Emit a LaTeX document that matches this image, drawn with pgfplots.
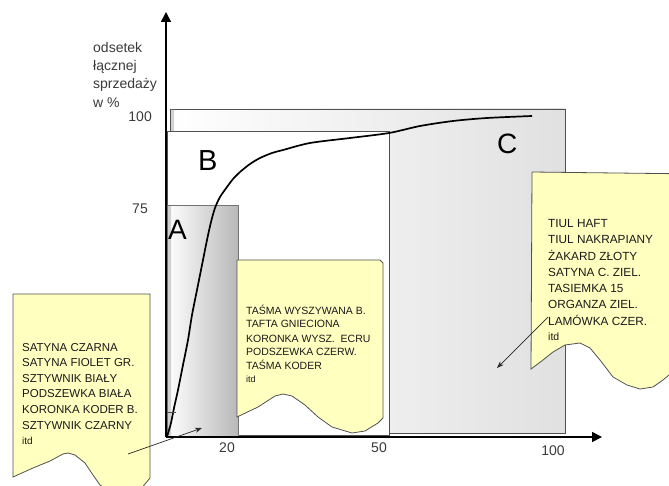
\documentclass[border=0pt]{standalone}
\usepackage{pgfplots}
\pgfplotsset{compat=1.18}
\usepackage{fontspec}
\setmainfont{Liberation Sans}
\usetikzlibrary{arrows.meta}
\definecolor{note}{HTML}{FFFFC0}
\definecolor{txt}{HTML}{1A1A1A}
\definecolor{lbl}{HTML}{3A3A3A}
\definecolor{edge}{HTML}{505050}

\begin{document}
\begin{tikzpicture}
\begin{axis}[
  scale only axis, width=669bp, height=486bp,
  xmin=0, xmax=669, ymin=0, ymax=486, y dir=reverse,
  enlargelimits=false, hide axis, clip=true,
]
% frame for bounding box
\addplot[draw=none] coordinates {(0,0) (669,486)};

% region C (background rectangle)
\addplot[draw=edge, line width=0.9bp, left color=white, right color=black!12]
  coordinates {(170,109) (565,109) (565,433) (170,433) (170,109)};
\addplot[draw=none, fill=black!18] coordinates {(171,110) (174,110) (174,131) (171,131) (171,110)};

% region B
\addplot[draw=edge, line width=0.9bp, fill=white]
  coordinates {(167,131) (389,131) (389,435) (167,435) (167,131)};

% region A
\addplot[draw=black!55, line width=0.9bp, left color=white, right color=black!28]
  coordinates {(167,205) (238,205) (238,437) (167,437) (167,205)};
\addplot[draw=none, fill=black!18] coordinates {(168,206) (171,206) (171,436) (168,436) (168,206)};

% cumulative curve
\addplot[black, line width=1.7bp, smooth, tension=0.5] coordinates {
  (167,437) (169,430) (171,423) (174,408) (178,390) (183,365) (188,340)
  (192,315) (197,290) (202,265) (207,240) (211,222) (215,208) (220,197)
  (227,187) (233,179) (240,172) (250,164) (260,158) (272,153) (283,150)
  (310,143) (350,138) (389,133) (420,126) (453,121) (487,118) (532,116)};
\addplot[black!70, line width=0.6bp] coordinates {(166,412) (176,412)};

% axes
\addplot[black, line width=1.5bp, -{Triangle[length=10bp,width=10bp]}]
  coordinates {(166,437) (166,12)};
\addplot[black, line width=1.5bp, -{Triangle[length=10bp,width=10bp]}]
  coordinates {(166,437) (602,437)};

% notes
\addplot[draw=edge, line width=0.8bp, fill=note] coordinates {
  (13,294) (150,294) (150,478) (140,490) (125,496) (110,492) (100,485)
  (93,475) (85,463) (75,455) (68,453) (63,454) (50,461) (33,468) (13,477) (13,294)};
\addplot[draw=edge, line width=0.8bp, fill=note] coordinates {
  (237,260) (380,260) (383,263) (383,418) (378,423) (365,431) (352,433)
  (332,427) (318,417) (305,405) (292,396) (283,394) (275,396) (258,407)
  (237,417) (237,260)};
\addplot[draw=edge, line width=0.8bp, fill=note] coordinates {
  (532,172) (700,174) (700,360) (669,375) (663,380) (653,387) (640,389)
  (627,385) (613,377) (600,360) (590,348) (580,343) (565,345) (553,352)
  (543,360) (531,369) (532,172)};

% pointer arrows
\addplot[black!85, line width=0.7bp, -{Stealth[length=7bp,width=5bp]}]
  coordinates {(128,454) (202,428)};
\addplot[black!85, line width=0.7bp, -{Stealth[length=7bp,width=5bp]}]
  coordinates {(548,317) (497,368)};

% texts
\begin{scope}[every node/.style={inner sep=0pt, anchor=base west}]
\node[font=\fontsize{14bp}{16bp}\selectfont, text=lbl] at (axis cs:93,53) {odsetek};
\node[font=\fontsize{14bp}{16bp}\selectfont, text=lbl] at (axis cs:93,71) {łącznej};
\node[font=\fontsize{14bp}{16bp}\selectfont, text=lbl] at (axis cs:93,89) {sprzedaży};
\node[font=\fontsize{14bp}{16bp}\selectfont, text=lbl] at (axis cs:93,107) {w \%};

\node[font=\fontsize{14bp}{16bp}\selectfont, text=lbl, anchor=base east] at (axis cs:152,121) {100};
\node[font=\fontsize{14bp}{16bp}\selectfont, text=lbl, anchor=base east] at (axis cs:148,213) {75};
\node[font=\fontsize{14bp}{16bp}\selectfont, text=lbl, anchor=base] at (axis cs:227,452) {20};
\node[font=\fontsize{14bp}{16bp}\selectfont, text=lbl, anchor=base] at (axis cs:379,452) {50};
\node[font=\fontsize{14bp}{16bp}\selectfont, text=lbl, anchor=base] at (axis cs:553,455) {100};

\node[font=\fontsize{28bp}{30bp}\selectfont] at (axis cs:168,239) {A};
\node[font=\fontsize{29bp}{30bp}\selectfont] at (axis cs:198,170) {B};
\node[font=\fontsize{28bp}{30bp}\selectfont] at (axis cs:497,153) {C};

\node[font=\fontsize{11.5bp}{13bp}\selectfont, text=txt] at (axis cs:22,351) {SATYNA CZARNA};
\node[font=\fontsize{11.5bp}{13bp}\selectfont, text=txt] at (axis cs:22,366) {SATYNA FIOLET GR.};
\node[font=\fontsize{11.5bp}{13bp}\selectfont, text=txt] at (axis cs:22,382) {SZTYWNIK BIAŁY};
\node[font=\fontsize{11.5bp}{13bp}\selectfont, text=txt] at (axis cs:22,397) {PODSZEWKA BIAŁA};
\node[font=\fontsize{11.5bp}{13bp}\selectfont, text=txt] at (axis cs:22,413) {KORONKA KODER B.};
\node[font=\fontsize{11.5bp}{13bp}\selectfont, text=txt] at (axis cs:22,429) {SZTYWNIK CZARNY};
\node[font=\fontsize{10bp}{12bp}\selectfont, text=txt] at (axis cs:22,444) {itd};

\node[font=\fontsize{10.5bp}{12bp}\selectfont, text=txt] at (axis cs:246,314) {TAŚMA WYSZYWANA B.};
\node[font=\fontsize{10.5bp}{12bp}\selectfont, text=txt] at (axis cs:246,327) {TAFTA GNIECIONA};
\node[font=\fontsize{10.5bp}{12bp}\selectfont, text=txt] at (axis cs:246,342) {KORONKA WYSZ.\ \ ECRU};
\node[font=\fontsize{10.5bp}{12bp}\selectfont, text=txt] at (axis cs:246,355) {PODSZEWKA CZERW.};
\node[font=\fontsize{10.5bp}{12bp}\selectfont, text=txt] at (axis cs:246,369) {TAŚMA KODER};
\node[font=\fontsize{9bp}{11bp}\selectfont, text=txt] at (axis cs:246,382) {itd};

\node[font=\fontsize{11.8bp}{13bp}\selectfont, text=txt] at (axis cs:548,227) {TIUL HAFT};
\node[font=\fontsize{11.8bp}{13bp}\selectfont, text=txt] at (axis cs:548,243) {TIUL NAKRAPIANY};
\node[font=\fontsize{11.8bp}{13bp}\selectfont, text=txt] at (axis cs:548,260) {ŻAKARD ZŁOTY};
\node[font=\fontsize{11.8bp}{13bp}\selectfont, text=txt] at (axis cs:548,276) {SATYNA C. ZIEL.};
\node[font=\fontsize{11.8bp}{13bp}\selectfont, text=txt] at (axis cs:548,292) {TASIEMKA 15};
\node[font=\fontsize{11.8bp}{13bp}\selectfont, text=txt] at (axis cs:548,308) {ORGANZA ZIEL.};
\node[font=\fontsize{11.8bp}{13bp}\selectfont, text=txt] at (axis cs:548,325) {LAMÓWKA CZER.};
\node[font=\fontsize{10.5bp}{12bp}\selectfont, text=txt] at (axis cs:548,340) {itd};
\end{scope}
\end{axis}
\end{tikzpicture}
\end{document}
